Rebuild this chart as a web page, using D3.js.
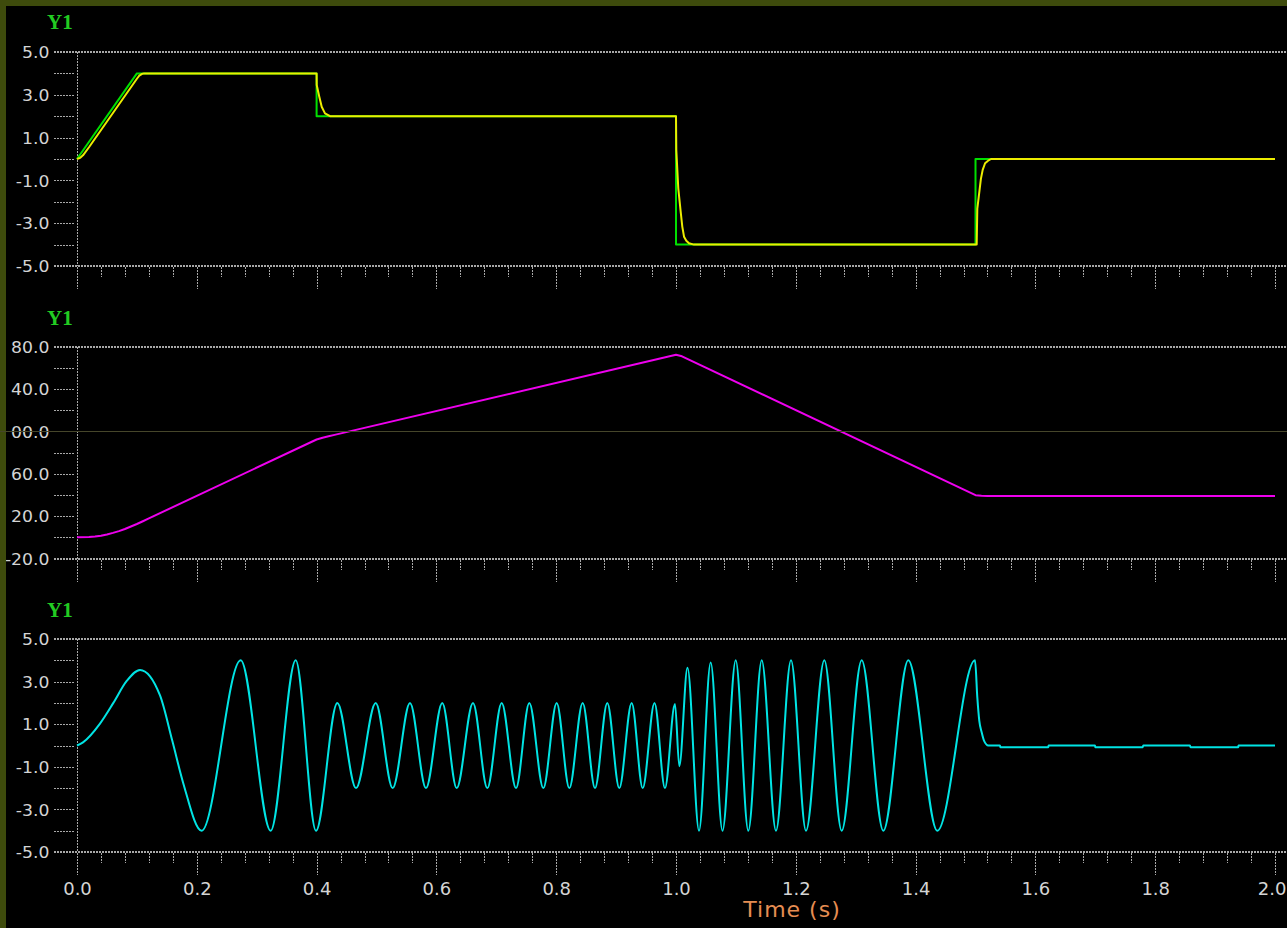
<!DOCTYPE html>
<html><head><meta charset="utf-8">
<script src="https://cdn.jsdelivr.net/npm/d3@7"></script>
<style>html,body{margin:0;padding:0;background:#000;overflow:hidden}</style>
</head><body>
<svg id="c" width="1287" height="928"></svg>
<script>
// ---------------- data ----------------
// Panel 1: reference command (green) and lagged response (yellow)
const commandSteps = [[0,0],[0.1,4],[0.4,4],[0.4,2],[1.0,2],[1.0,-4],[1.5,-4],[1.5,0],[2.0,0]];
const responseTrace = [[0,0],[0.005,0.05],[0.01,0.17],[0.02,0.55],[0.1,3.75],[0.104,3.9],[0.108,3.97],[0.112,4],
  [0.4,4],[0.4002,3.46],[0.4045,2.91],[0.4085,2.44],[0.414,2.13],[0.4224,2.0],
  [1.0,2],[1.0005,0.42],[1.0038,-1.37],[1.0078,-2.46],[1.0105,-3.16],[1.0134,-3.63],[1.0172,-3.82],[1.0217,-3.94],[1.03,-4],
  [1.502,-4],[1.503,-2.33],[1.507,-1.4],[1.509,-0.93],[1.512,-0.51],[1.516,-0.2],[1.521,-0.08],[1.526,0],[2.0,0]];
// Panel 2: integrated position (magenta)
const positionTrace = [[0,0],[0.02,0.2],[0.03,0.7],[0.04,1.5],[0.05,2.7],[0.06,4.2],[0.07,5.9],[0.08,7.9],[0.09,10.2],
  [0.1,12.6],[0.11,15.2],[0.12,17.9],[0.4,92.4],[0.41,94.1],[0.42,95.5],[0.43,96.8],[1.0,172.5],[1.01,171],
  [1.5,39.8],[1.51,39.3],[1.52,39.1],[2.0,39.1]];
// Panel 3: oscillating signal (cyan) - extrema and shape points
const signalTrace = [[0,0],[0.01,0.15],[0.0384,1.03],[0.0607,2.0],[0.083,3.03],[0.1052,3.55],[0.1386,2.35],[0.159,0.23],[0.1775,-1.78],
  [0.208,-4],[0.2733,4],[0.3233,-4],[0.3651,4],[0.399,-4],
  [0.4346,2],[0.4658,-2],[0.4987,2],[0.5270,-2],[0.5559,2],[0.5826,-2],[0.6098,2],[0.6339,-2],[0.6611,2],[0.6850,-2],
  [0.7090,2],[0.7329,-2],[0.7551,2],[0.7785,-2],[0.8008,2],[0.8219,-2],[0.8442,2],[0.8648,-2],[0.8853,2],[0.9053,-2],
  [0.9260,2],[0.9444,-2],[0.9641,2],[0.9816,-2],[0.9983,1.95],[1.0055,-0.97],[1.0192,3.65],[1.0384,-4],[1.0579,3.9],
  [1.0776,-4],[1.0997,4],[1.1207,-4],[1.1431,4],[1.1669,-4],[1.1920,4],[1.2170,-4],[1.2476,4],[1.2766,-4],[1.3100,4],
  [1.3461,-4],[1.3878,4],[1.4362,-4],[1.4992,4],
  [1.503,2.27],[1.5063,1.17],[1.5103,0.62],[1.5142,0.23],[1.5214,0],[1.5409,0],[1.5415,-0.08],[1.6215,-0.08],[1.622,0],
  [1.6995,0],[1.70,-0.08],[1.7791,-0.08],[1.78,0],[1.8581,0],[1.859,-0.08],[1.9387,-0.08],[1.939,0],[2.0,0]];

// tick values / labels (as visible in the reference)
const yMajor1 = [5,3,1,-1,-3,-5];
const yLabels1 = ["5.0","3.0","1.0","-1.0","-3.0","-5.0"];
const yMinor1 = [4,2,0,-2,-4];
const yMajor2 = [180,140,100,60,20,-20];
const yLabels2 = ["80.0","40.0","00.0","60.0","20.0","-20.0"];
const yMinor2 = [160,120,80,40,0];
const xMajor = [0,0.2,0.4,0.6,0.8,1.0,1.2,1.4,1.6,1.8,2.0];
const xLabels = ["0.0","0.2","0.4","0.6","0.8","1.0","1.2","1.4","1.6","1.8","2.0"];
const axisTitleY = "Y1";
const axisTitleX = "Time (s)";

// ---------------- drawing ----------------
const W = 1287, H = 928;
const svg = d3.select("#c");
svg.append("rect").attr("width", W).attr("height", H).attr("fill", "#000");

const x = d3.scaleLinear().domain([0, 2]).range([77, 1275]);
const xMinor = d3.range(0, 51).map(i => i * 0.04);
const gridCol = "#a8a8a8";
const olive = "#3e4b0c";

const panels = [
  { y: d3.scaleLinear().domain([-5, 5]).range([266, 52]), major: yMajor1, labels: yLabels1, minor: yMinor1,
    titleY: 29, xlabels: false,
    series: [{ d: commandSteps, c: "#00e000", curve: d3.curveLinear },
             { d: responseTrace, c: "#ecec00", curve: d3.curveLinear }] },
  { y: d3.scaleLinear().domain([-20, 180]).range([558.5, 346.8]), major: yMajor2, labels: yLabels2, minor: yMinor2,
    titleY: 325, xlabels: false,
    series: [{ d: positionTrace, c: "#ee00ee", curve: d3.curveLinear }] },
  { y: d3.scaleLinear().domain([-5, 5]).range([852, 639]), major: yMajor1, labels: yLabels1, minor: yMinor1,
    titleY: 617, xlabels: true,
    series: [{ d: signalTrace, c: "#00e4e4", curve: d3.curveMonotoneX }] }
];

function dotted(sel, w) {
  return sel.attr("stroke", gridCol).attr("stroke-width", w).attr("stroke-dasharray", "2,1").attr("shape-rendering", "crispEdges");
}

panels.forEach(p => {
  const g = svg.append("g");
  const [lo, hi] = p.y.domain();
  const yTop = p.y(hi), yBot = p.y(lo);

  // frame lines
  dotted(g.append("line").attr("x1", 54).attr("x2", W).attr("y1", yTop).attr("y2", yTop), 2);
  dotted(g.append("line").attr("x1", 54).attr("x2", W).attr("y1", yBot).attr("y2", yBot), 2);
  dotted(g.append("line").attr("x1", 77).attr("x2", 77).attr("y1", yTop).attr("y2", yBot), 1);

  // y axis
  const yAxis = d3.axisLeft(p.y).tickValues(p.major.concat(p.minor)).tickSize(20).tickSizeOuter(0)
    .tickFormat(v => { const i = p.major.indexOf(v); return i >= 0 ? p.labels[i] : ""; });
  const ya = g.append("g").attr("transform", "translate(74,0)").call(yAxis);
  ya.select(".domain").remove();
  dotted(ya.selectAll(".tick line"), 1);
  ya.selectAll(".tick text")
    .attr("x", -24.5 / 1.15).attr("dy", "0.38em")
    .attr("transform", "scale(1.15,1)")
    .attr("fill", "#d4d4d4").attr("font-family", "DejaVu Sans").attr("font-size", 15);

  // x axis ticks
  const isMajor = d => Math.abs(d * 5 - Math.round(d * 5)) < 1e-6;
  const xAxis = d3.axisBottom(x).tickValues(xMinor).tickSize(0).tickSizeOuter(0)
    .tickFormat(d => {
      if (!p.xlabels || !isMajor(d)) return "";
      const i = xMajor.findIndex(v => Math.abs(v - d) < 1e-6);
      return i >= 0 ? xLabels[i] : "";
    });
  const xa = g.append("g").attr("transform", `translate(0,${yBot + 1})`).call(xAxis);
  xa.select(".domain").remove();
  dotted(xa.selectAll(".tick line"), 1).attr("y2", d => isMajor(d) ? 22 : 10);
  xa.selectAll(".tick text").attr("y", 29).attr("dy", "0.71em")
    .attr("fill", "#d4d4d4").attr("font-family", "DejaVu Sans").attr("font-size", 18);
  // keep the last label inside the window's right edge
  xa.selectAll(".tick text").filter(d => Math.abs(d - 2) < 1e-6)
    .attr("text-anchor", "end").attr("x", W - 1 - x(2));

  // title
  g.append("text").attr("x", 47).attr("y", p.titleY).text(axisTitleY)
    .attr("fill", "#22cc22").attr("font-family", "Liberation Serif").attr("font-weight", "bold").attr("font-size", 21);

  // series
  p.series.forEach(s => {
    g.append("path").datum(s.d)
      .attr("d", d3.line().x(d => x(d[0])).y(d => p.y(d[1])).curve(s.curve))
      .attr("fill", "none").attr("stroke", s.c).attr("stroke-width", 2).attr("stroke-linejoin", "round");
  });
});

// x-axis title
svg.append("text").attr("x", 792).attr("y", 917).attr("text-anchor", "middle")
  .attr("fill", "#e68d52").attr("font-family", "DejaVu Sans").attr("font-size", 22).attr("letter-spacing", 1)
  .text(axisTitleX);

// olive window border
svg.append("rect").attr("x", 0).attr("y", 0).attr("width", W).attr("height", 6).attr("fill", olive);
svg.append("rect").attr("x", 0).attr("y", 0).attr("width", 6).attr("height", H).attr("fill", olive);

// faint line across middle panel at 100
svg.append("line").attr("x1", 0).attr("x2", W)
  .attr("y1", Math.round(panels[1].y(100)) + 0.5).attr("y2", Math.round(panels[1].y(100)) + 0.5)
  .attr("stroke", "#46462a").attr("stroke-width", 1);
</script>
</body></html>
